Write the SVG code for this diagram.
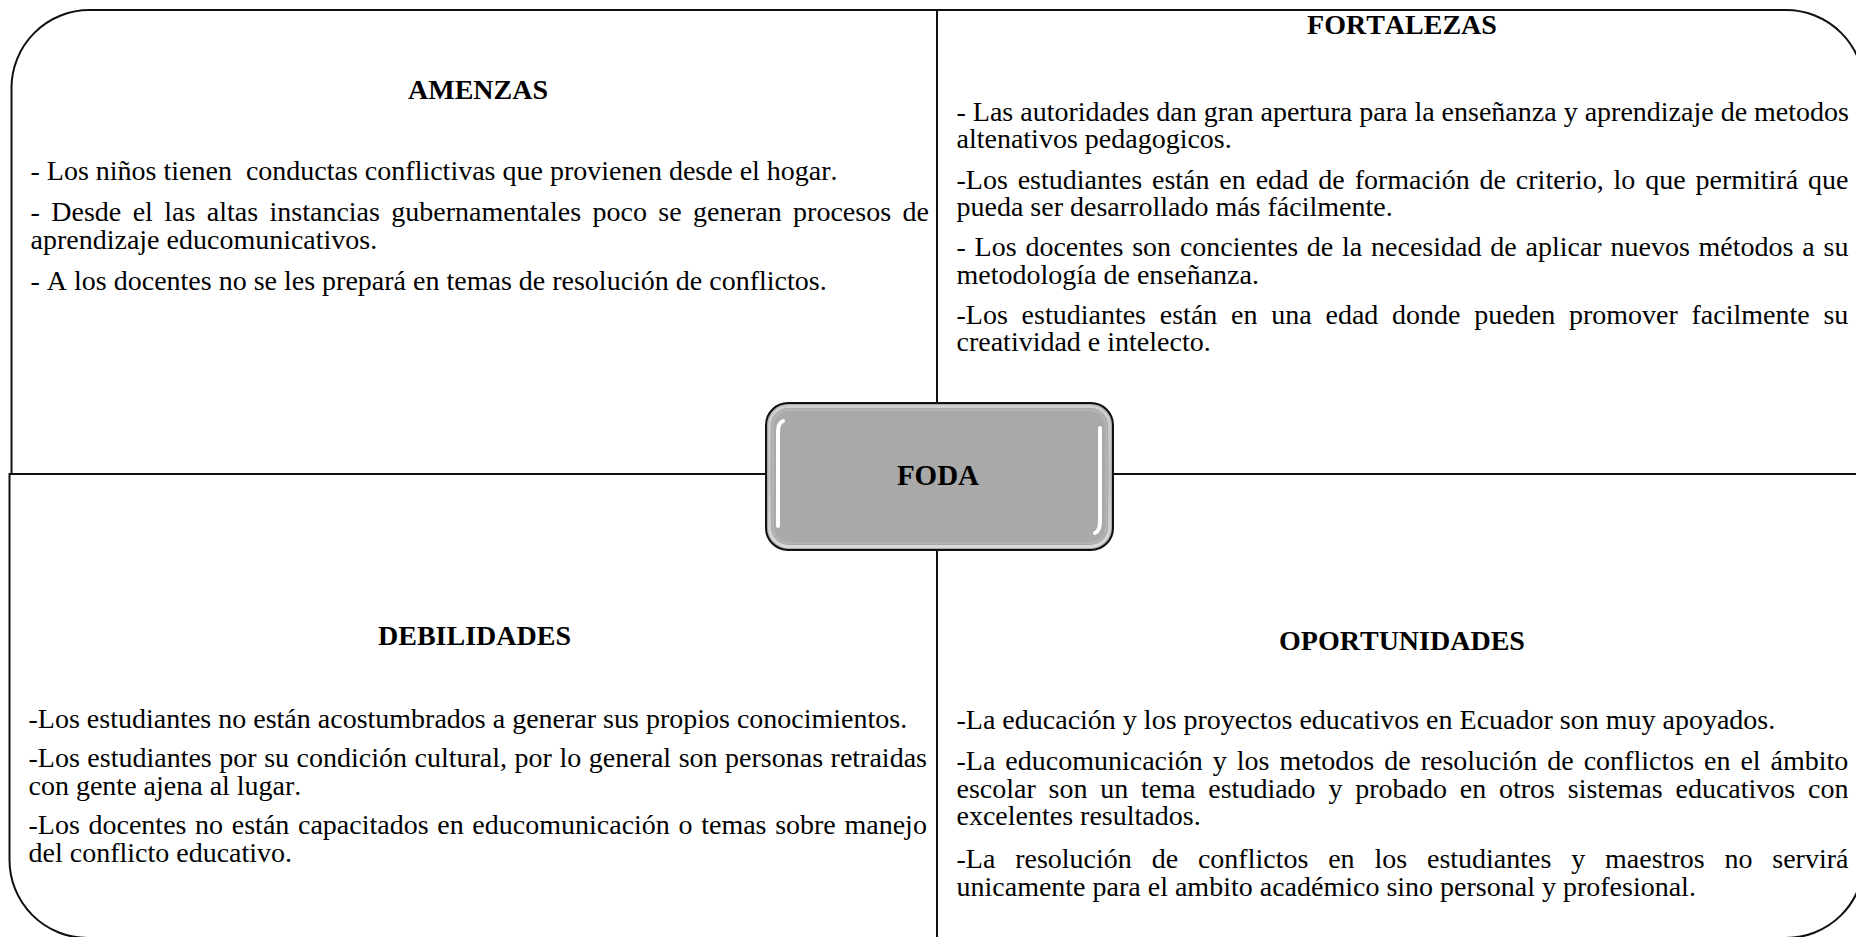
<svg xmlns="http://www.w3.org/2000/svg" width="1856" height="937" viewBox="0 0 1856 937">
  <defs>
    <style>
      .panel { fill: #ffffff; stroke: #111111; stroke-width: 2; }
      .h { font-family: "Liberation Serif", "Times New Roman", serif; font-size: 28px; font-weight: bold; fill: #000; text-anchor: middle; font-kerning: none; }
      .b { font-family: "Liberation Serif", "Times New Roman", serif; font-size: 28px; fill: #000; font-kerning: none; }
      .hl { fill: none; stroke: #ffffff; stroke-width: 4; stroke-linecap: round; }
    </style>
    <linearGradient id="fodaEdge" x1="0" y1="0" x2="0" y2="1">
      <stop offset="0" stop-color="#d9d9d9"/>
      <stop offset="0.5" stop-color="#c4c4c4"/>
      <stop offset="1" stop-color="#e6e6e6"/>
    </linearGradient>
  </defs>
  <rect x="0" y="0" width="1856" height="937" fill="#ffffff"/>

  <g id="amenazas">
    <path class="panel" d="M 11.5 474 L 11.5 88 A 78 78 0 0 1 89.5 10 L 937 10 L 937 474 Z"/>
    <text class="h" x="478" y="99">AMENZAS</text>
    <text class="b" x="30.5" y="180" xml:space="preserve">- Los niños tienen  conductas conflictivas que provienen desde el hogar.</text>
    <text class="b" x="30.5" y="221" word-spacing="4.42">- Desde el las altas instancias gubernamentales poco se generan procesos de</text>
    <text class="b" x="30.5" y="248.5">aprendizaje educomunicativos.</text>
    <text class="b" x="30.5" y="289.5">- A los docentes no se les prepará en temas de resolución de conflictos.</text>
  </g>

  <g id="fortalezas">
    <path class="panel" d="M 937 10 L 1786 10 A 78 78 0 0 1 1864 88 L 1864 474 L 937 474 Z"/>
    <text class="h" x="1402" y="34">FORTALEZAS</text>
    <text class="b" x="956.5" y="121">- Las autoridades dan gran apertura para la enseñanza y aprendizaje de metodos</text>
    <text class="b" x="956.5" y="148.3">altenativos pedagogicos.</text>
    <text class="b" x="956.5" y="188.6" word-spacing="2.86">-Los estudiantes están en edad de formación de criterio, lo que permitirá que</text>
    <text class="b" x="956.5" y="215.9">pueda ser desarrollado más fácilmente.</text>
    <text class="b" x="956.5" y="256.2" word-spacing="1.8">- Los docentes son concientes de la necesidad de aplicar nuevos métodos a su</text>
    <text class="b" x="956.5" y="283.5">metodología de enseñanza.</text>
    <text class="b" x="956.5" y="323.8" word-spacing="6.77">-Los estudiantes están en una edad donde pueden promover facilmente su</text>
    <text class="b" x="956.5" y="351.1">creatividad e intelecto.</text>
  </g>

  <g id="debilidades">
    <path class="panel" d="M 9.5 474 L 937 474 L 937 938 L 87.5 938 A 78 78 0 0 1 9.5 860 Z"/>
    <text class="h" x="474.5" y="645">DEBILIDADES</text>
    <text class="b" x="28.5" y="728">-Los estudiantes no están acostumbrados a generar sus propios conocimientos.</text>
    <text class="b" x="28.5" y="767" word-spacing="0.53">-Los estudiantes por su condición cultural, por lo general son personas retraidas</text>
    <text class="b" x="28.5" y="794.5">con gente ajena al lugar.</text>
    <text class="b" x="28.5" y="834" word-spacing="1.67">-Los docentes no están capacitados en educomunicación o temas sobre manejo</text>
    <text class="b" x="28.5" y="861.5">del conflicto educativo.</text>
  </g>

  <g id="oportunidades">
    <path class="panel" d="M 937 474 L 1864 474 L 1864 860 A 78 78 0 0 1 1786 938 L 937 938 Z"/>
    <text class="h" x="1402" y="650">OPORTUNIDADES</text>
    <text class="b" x="956.5" y="729">-La educación y los proyectos educativos en Ecuador son muy apoyados.</text>
    <text class="b" x="956.5" y="770" word-spacing="2.97">-La educomunicación y los metodos de resolución de conflictos en el ámbito</text>
    <text class="b" x="956.5" y="797.5" word-spacing="5.8">escolar son un tema estudiado y probado en otros sistemas educativos con</text>
    <text class="b" x="956.5" y="825">excelentes resultados.</text>
    <text class="b" x="956.5" y="868" word-spacing="12.84">-La resolución de conflictos en los estudiantes y maestros no servirá</text>
    <text class="b" x="956.5" y="895.5">unicamente para el ambito académico sino personal y profesional.</text>
  </g>

  <g id="foda">
    <rect x="766" y="403" width="347" height="147" rx="22" ry="22" fill="#a9a9a9" stroke="#111111" stroke-width="2"/>
    <rect x="769.5" y="406.5" width="340" height="140" rx="19" ry="19" fill="none" stroke="url(#fodaEdge)" stroke-width="3" opacity="0.8"/>
    <rect x="773" y="410" width="333" height="133" rx="16" ry="16" fill="none" stroke="#bdbdbd" stroke-width="2" opacity="0.6"/>
    <path class="hl" d="M 783 421 Q 778 423 778 432 L 778 526"/>
    <path class="hl" d="M 1100 428 L 1100 521 Q 1100 531 1095 533"/>
    <text class="h" x="938" y="485" style="font-size:29px">FODA</text>
  </g>
</svg>
